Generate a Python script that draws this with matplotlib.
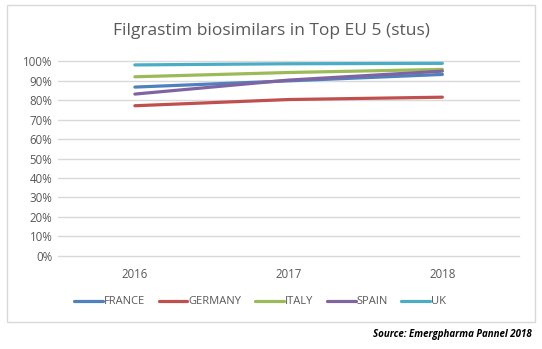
import matplotlib.pyplot as plt
from matplotlib.patches import Rectangle
from matplotlib.ticker import PercentFormatter

# DATA
# ----
years = ['2016', '2017', '2018']
countries = ['FRANCE', 'GERMANY', 'ITALY', 'SPAIN', 'UK']
france = [0.868, 0.900, 0.933]
germany = [0.772, 0.804, 0.816]
italy = [0.921, 0.943, 0.959]
spain = [0.832, 0.904, 0.950]
uk = [0.982, 0.988, 0.990]
series = [france, germany, italy, spain, uk]
colors = ['#4F81BD', '#C0504D', '#9BBB59', '#8064A2', '#4BACC6']

TEXT_GREY = '#595959'
GRID_GREY = '#D9D9D9'

plt.rcParams['font.family'] = ['Open Sans', 'DejaVu Sans']

fig = plt.figure(figsize=(5.42, 3.49), dpi=100)
ax = fig.add_axes([0.107, 0.267, 0.851, 0.557])

# chart frame
fig.patches.append(Rectangle((7 / 542, 1 - 322 / 349), 528 / 542, 317 / 349,
                             transform=fig.transFigure, fill=False,
                             edgecolor=GRID_GREY, linewidth=1))

x = list(range(len(years)))
for name, values, color in zip(countries, series, colors):
    ax.plot(x, values, color=color, linewidth=2.3, label=name,
            solid_capstyle='round')

ax.set_xlim(-0.5, len(years) - 0.5)
ax.set_ylim(0, 1.0)
ax.set_yticks([i / 10 for i in range(11)])
ax.yaxis.set_major_formatter(PercentFormatter(1.0, decimals=0))
ax.set_xticks(x)
ax.set_xticklabels(years)

ax.grid(axis='y', color=GRID_GREY, linewidth=1)
ax.set_axisbelow(True)
for ax_line in ax.get_ygridlines():
    ax_line.set_clip_on(False)
for side in ['top', 'right', 'left', 'bottom']:
    ax.spines[side].set_visible(False)
ax.tick_params(axis='both', length=0, labelsize=8.3, labelcolor=TEXT_GREY)
ax.tick_params(axis='y', pad=4)
ax.tick_params(axis='x', pad=9)

fig.text(0.5, 1 - 31 / 349, 'Filgrastim biosimilars in Top EU 5 (stus)',
         ha='center', va='center', fontsize=12.5, color=TEXT_GREY)

fig.legend(loc='center', bbox_to_anchor=(0.48, 1 - 302 / 349), ncol=5,
           frameon=False, fontsize=8, labelcolor=TEXT_GREY,
           handlelength=2.6, handletextpad=0.1, columnspacing=1.2)

fig.text(532 / 542, 1 - 334 / 349, 'Source: Emergpharma Pannel 2018',
         ha='right', va='center', fontsize=7, fontweight='bold',
         fontstyle='italic', color='black')

fig.savefig('out.png', dpi=100)
